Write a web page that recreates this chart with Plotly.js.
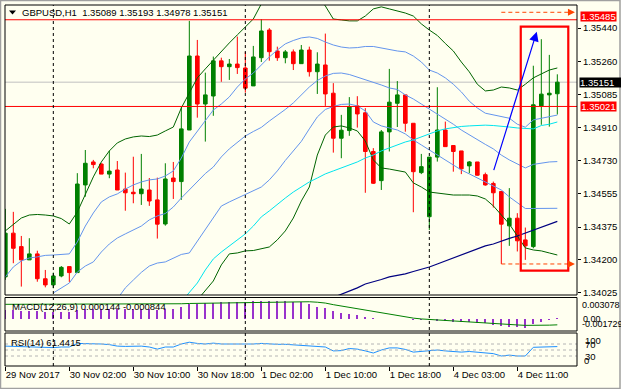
<!DOCTYPE html>
<html><head><meta charset="utf-8">
<script src="https://cdn.plot.ly/plotly-3.0.1.min.js"></script>
<style>html,body{margin:0;padding:0;background:#fffff0;}#chart{width:621px;height:389px;}</style>
</head><body><div id="chart"></div>
<script>
// ---------------- DATA ----------------
const symbolTitle = 'GBPUSD,H1\u00a0\u00a01.35089 1.35193 1.34978 1.35151';
const macdTitle = 'MACD(12,26,9) 0.000144 -0.000844';
const rsiTitle = 'RSI(14) 61.4415';

const open = [1.34109,1.34343,1.34271,1.34200,1.34232,1.34099,1.34066,1.34114,1.34164,1.34132,
1.34601,1.34724,1.34713,1.34659,1.34681,1.34579,1.34562,1.34554,1.34574,1.34521,
1.34392,1.34638,1.34619,1.34895,1.35291,1.35034,1.35077,1.35265,1.35234,1.35248,
1.35227,1.35131,1.35282,1.35430,1.35318,1.35282,1.35313,1.35250,1.35323,1.35207,
1.35243,1.35092,1.34851,1.34892,1.35024,1.34987,1.34780,1.34624,1.34885,1.35038,
1.35083,1.34931,1.34667,1.34431,1.34750,1.34895,1.34812,1.34783,1.34703,1.34724,
1.34656,1.34609,1.34566,1.34382,1.34423,1.34307,1.34271,1.35024,1.35083,1.35089];
const high = [1.34473,1.34457,1.34328,1.34316,1.34249,1.34146,1.34132,1.34167,1.34164,1.34664,
1.34788,1.34735,1.34717,1.34784,1.34729,1.34667,1.34752,1.34767,1.34638,1.34640,
1.34717,1.34724,1.35020,1.35479,1.35377,1.35202,1.35288,1.35282,1.35275,1.35395,
1.35313,1.35345,1.35488,1.35440,1.35341,1.35323,1.35326,1.35350,1.35341,1.35311,
1.35411,1.35146,1.34976,1.35071,1.35076,1.35012,1.34798,1.34895,1.35222,1.35157,
1.35083,1.34931,1.34767,1.34750,1.35124,1.34940,1.34812,1.34783,1.34729,1.34724,
1.34667,1.34619,1.34566,1.34584,1.34450,1.34373,1.35239,1.35381,1.35297,1.35193];
const low = [1.34093,1.34182,1.34057,1.34200,1.34083,1.34053,1.34048,1.34107,1.34082,1.34132,
1.34538,1.34690,1.34659,1.34637,1.34574,1.34463,1.34503,1.34494,1.34489,1.34314,
1.34383,1.34526,1.34521,1.34895,1.34961,1.34833,1.34971,1.35153,1.35163,1.35195,
1.35095,1.35131,1.35259,1.35266,1.35265,1.35252,1.35216,1.35250,1.35181,1.35088,
1.35024,1.34774,1.34744,1.34864,1.34908,1.34559,1.34606,1.34574,1.34780,1.34911,
1.34886,1.34455,1.34659,1.34360,1.34726,1.34806,1.34672,1.34659,1.34664,1.34651,
1.34597,1.34480,1.34178,1.34275,1.34245,1.34200,1.34262,1.34923,1.34913,1.34978];
const close = [1.34343,1.34262,1.34200,1.34232,1.34099,1.34066,1.34114,1.34160,1.34132,1.34606,
1.34717,1.34710,1.34659,1.34675,1.34574,1.34559,1.34554,1.34579,1.34515,1.34391,
1.34633,1.34619,1.34901,1.35291,1.35034,1.35083,1.35265,1.35234,1.35248,1.35229,
1.35119,1.35286,1.35425,1.35314,1.35282,1.35313,1.35250,1.35323,1.35207,1.35248,
1.35088,1.34851,1.34894,1.35020,1.34981,1.34780,1.34610,1.34885,1.35044,1.35083,
1.34931,1.34672,1.34699,1.34750,1.34895,1.34806,1.34780,1.34687,1.34724,1.34653,
1.34601,1.34559,1.34391,1.34423,1.34302,1.34275,1.35030,1.35087,1.35092,1.35151];

// Bollinger 20/2 (green)
const bbUpper2 = [1.34355,1.34392,1.34424,1.34440,1.34443,1.34440,1.34435,1.34421,1.34392,1.34456,
1.34547,1.34644,1.34724,1.34783,1.34826,1.34847,1.34858,1.34863,1.34860,1.34868,
1.34890,1.34911,1.35013,1.35093,1.35174,1.35222,1.35270,1.35313,1.35361,1.35404,
1.35447,1.35489,1.35570,1.35618,1.35645,1.35661,1.35666,1.35661,1.35645,1.35612,
1.35559,1.35489,1.35484,1.35479,1.35479,1.35505,1.35543,1.35554,1.35543,1.35532,
1.35521,1.35505,1.35463,1.35430,1.35401,1.35358,1.35318,1.35259,1.35206,1.35140,
1.35104,1.35109,1.35125,1.35120,1.35109,1.35140,1.35174,1.35195,1.35216,1.35227];
const bbLower2 = [null,null,null,null,null,null,null,null,null,null,null,null,
null,null,null,null,null,null,null,null,null,null,null,null,
1.33985,1.34034,1.34087,1.34173,1.34232,1.34237,1.34248,1.34250,1.34258,1.34269,
1.34307,1.34355,1.34424,1.34515,1.34590,1.34761,1.34868,1.34911,1.34917,1.34906,
1.34890,1.34836,1.34735,1.34692,1.34686,1.34678,1.34670,1.34612,1.34590,1.34563,
1.34558,1.34553,1.34547,1.34547,1.34547,1.34542,1.34526,1.34489,1.34440,1.34392,
1.34328,1.34264,1.34253,1.34248,1.34237,1.34226];
// Bollinger 20/1 (blue)
const bbUpper1 = [1.34109,1.34162,1.34194,1.34210,1.34216,1.34224,1.34226,1.34229,1.34232,1.34296,
1.34381,1.34451,1.34510,1.34537,1.34553,1.34579,1.34601,1.34617,1.34628,1.34633,
1.34649,1.34676,1.34745,1.34831,1.34890,1.34949,1.35002,1.35034,1.35072,1.35125,
1.35168,1.35200,1.35243,1.35286,1.35323,1.35356,1.35374,1.35388,1.35393,1.35385,
1.35366,1.35350,1.35339,1.35334,1.35336,1.35342,1.35342,1.35334,1.35323,1.35318,
1.35313,1.35291,1.35259,1.35216,1.35200,1.35174,1.35140,1.35099,1.35049,1.35013,
1.34985,1.34975,1.34969,1.34958,1.34926,1.34910,1.34949,1.34958,1.34969,1.34975];
const bbMiddle = [null,null,null,null,null,null,
1.34023,1.34050,1.34076,1.34135,1.34167,1.34189,1.34242,1.34285,1.34317,1.34339,
1.34360,1.34381,1.34414,1.34435,1.34448,1.34483,1.34531,1.34574,1.34622,1.34662,
1.34697,1.34751,1.34794,1.34826,1.34863,1.34887,1.34909,1.34943,1.34973,1.35005,
1.35040,1.35083,1.35125,1.35160,1.35184,1.35198,1.35200,1.35192,1.35179,1.35166,
1.35149,1.35136,1.35120,1.35112,1.35083,1.35061,1.35034,1.35008,1.34981,1.34954,
1.34926,1.34895,1.34868,1.34842,1.34818,1.34794,1.34761,1.34735,1.34713,1.34692,
1.34711,1.34719,1.34724,1.34726];
const bbLower1 = [null,null,null,null,null,null,null,null,null,null,null,null,null,null,
1.33991,1.34050,1.34092,1.34133,1.34167,1.34183,1.34189,1.34210,1.34229,1.34237,
1.34301,1.34365,1.34430,1.34488,1.34510,1.34531,1.34550,1.34571,1.34590,1.34628,
1.34676,1.34732,1.34780,1.34834,1.34901,1.34965,1.35005,1.35021,1.35032,1.35034,
1.35024,1.34997,1.34938,1.34917,1.34906,1.34895,1.34874,1.34842,1.34815,1.34788,
1.34761,1.34735,1.34708,1.34681,1.34660,1.34638,1.34617,1.34596,1.34574,1.34537,
1.34505,1.34475,1.34475,1.34475,1.34475,1.34476];
// moving averages
const maCyan = [null,null,null,null,null,null,null,null,null,null,null,
null,null,null,null,null,null,null,null,null,null,null,
1.33975,1.34028,1.34076,1.34146,1.34205,1.34242,1.34275,1.34307,1.34339,1.34381,
1.34430,1.34462,1.34499,1.34531,1.34563,1.34590,1.34617,1.34638,1.34660,1.34676,
1.34692,1.34708,1.34724,1.34745,1.34761,1.34783,1.34799,1.34815,1.34831,1.34842,
1.34858,1.34874,1.34890,1.34901,1.34909,1.34914,1.34917,1.34919,1.34921,1.34919,
1.34917,1.34911,1.34906,1.34903,1.34901,1.34919,1.34926,1.34938];
const maNavy = [null,null,null,null,null,null,null,null,null,null,null,null,null,null,
null,null,null,null,null,null,null,null,null,null,null,null,null,null,
null,null,null,null,null,null,null,null,null,null,null,null,null,
1.33999,1.34015,1.34034,1.34050,1.34071,1.34082,1.34095,1.34109,1.34117,1.34125,
1.34138,1.34149,1.34162,1.34178,1.34194,1.34210,1.34224,1.34242,1.34258,1.34275,
1.34285,1.34301,1.34315,1.34328,1.34344,1.34360,1.34376,1.34389,1.34406];

const macdMain = [0.00128,0.00128,0.00121,0.00121,0.00113,0.00106,0.00106,0.00106,0.00106,0.00128,
0.00142,0.00149,0.00149,0.00149,0.00142,0.00142,0.00142,0.00142,0.00142,0.00135,
0.00142,0.00149,0.00171,0.00214,0.00214,0.00228,0.00235,0.00243,0.00250,0.00250,
0.00250,0.00257,0.00264,0.00264,0.00257,0.00257,0.00250,0.00247,0.00210,0.00175,
0.00152,0.00113,0.00080,0.00070,0.00056,0.00027,0.00013,0.00006,0.00005,0.00003,
0.00000,-0.00009,-0.00016,-0.00020,-0.00030,-0.00035,-0.00040,-0.00045,-0.00050,-0.00055,
-0.00060,-0.00080,-0.00100,-0.00110,-0.00120,-0.00130,-0.00070,-0.00040,-0.00010,0.000144];
const macdSignal = [0.00210,0.00210,0.00210,0.00210,0.00210,0.00210,0.00210,0.00210,0.00210,0.00210,
0.00210,0.00210,0.00210,0.00210,0.00210,0.00210,0.00210,0.00210,0.00210,0.00210,
0.00212,0.00215,0.00218,0.00222,0.00224,0.00226,0.00229,0.00232,0.00235,0.00238,
0.00240,0.00243,0.00245,0.00247,0.00248,0.00248,0.00248,0.00248,0.00247,0.00240,
0.00228,0.00205,0.00185,0.00168,0.00152,0.00133,0.00113,0.00093,0.00066,0.00046,
0.00028,0.00012,0.00000,-0.00008,-0.00016,-0.00024,-0.00032,-0.00040,-0.00046,-0.00052,
-0.00058,-0.00063,-0.00070,-0.00078,-0.00086,-0.00092,-0.00093,-0.00092,-0.00089,-0.000844];
const rsi = [63,62,60,60,58,57,58,60,60,72,
72,71,70,68,63,62,62,63,60,53,
60,60,70,76,72,70,73,70,70,70,
68,70,72,70,69,69,67,67,64,63,
60,47,48,55,53,47,40,50,57,57,
52,43,45,48,50,47,45,43,45,42,
40,38,30,33,30,30,59,60,60,61.4415];

const timeTickBars = [0,8,16,24,32,40,48,56,64];
const timeTickLabels = ['29 Nov 2017','30 Nov 02:00','30 Nov 10:00','30 Nov 18:00','1 Dec 02:00','1 Dec 10:00','1 Dec 18:00','4 Dec 03:00','4 Dec 11:00'];
const daySeparatorBars = [6,30,53];
const priceTicks = [1.35440,1.35260,1.35085,1.34910,1.34730,1.34555,1.34375,1.34200,1.34025];
const priceTickLabels = ['1.35440','1.35260','1.35085','1.34910','1.34730','1.34555','1.34375','1.34200','1.34025'];
const levelHigh = 1.35485, levelPivot = 1.35021, bidPrice = 1.35151;
const dashedTop = 1.35525, dashedLow = 1.34178, dashedFromBar = 62;
const macdMax = 0.003078, macdMin = -0.001729;
const rsiLevels = [70,50,30];

// ---------------- LAYOUT ----------------
const bars = open.map((_, i) => i);
const FONT = 'Liberation Sans, Arial, sans-serif';
const BG = '#fffff0';
const L = 5, R = 44, T = 5, B = 23, PW = 621 - L - R, PH = 389 - T - B;
const px = x => (x - L) / PW;            // pixel -> paper x
const py = y => (389 - B - y) / PH;      // pixel -> paper y
const dMain = [py(295), 1], dMacd = [py(331), py(297.5)], dRsi = [0, py(333)];

const traces = [
  {x: bars, y: bbUpper2, yaxis: 'y', type: 'scatter', mode: 'lines', line: {color: '#006400', width: 1}},
  {x: bars, y: bbLower2, yaxis: 'y', type: 'scatter', mode: 'lines', line: {color: '#006400', width: 1}},
  {x: bars, y: bbUpper1, yaxis: 'y', type: 'scatter', mode: 'lines', line: {color: '#6495ed', width: 1}},
  {x: bars, y: bbMiddle, yaxis: 'y', type: 'scatter', mode: 'lines', line: {color: '#6495ed', width: 1}},
  {x: bars, y: bbLower1, yaxis: 'y', type: 'scatter', mode: 'lines', line: {color: '#6495ed', width: 1}},
  {x: bars, y: maCyan, yaxis: 'y', type: 'scatter', mode: 'lines', line: {color: '#00e5ee', width: 1}},
  {x: bars, y: maNavy, yaxis: 'y', type: 'scatter', mode: 'lines', line: {color: '#000080', width: 1.2}},
  {x: bars, open: open, high: high, low: low, close: close, type: 'candlestick', yaxis: 'y',
   whiskerwidth: 0,
   increasing: {line: {color: '#008000', width: 1}, fillcolor: '#008000'},
   decreasing: {line: {color: '#ff0000', width: 1}, fillcolor: '#ff0000'}},
  {x: bars, y: macdMain, yaxis: 'y2', type: 'bar', width: 0.25, marker: {color: '#9932cc', line: {width: 0}}},
  {x: bars, y: macdSignal, yaxis: 'y2', type: 'scatter', mode: 'lines', line: {color: '#008000', width: 1}},
  {x: bars, y: rsi, yaxis: 'y3', type: 'scatter', mode: 'lines', line: {color: '#1e90ff', width: 1}}
];

const shapes = [];
// gray window border
shapes.push({type: 'rect', xref: 'paper', yref: 'paper', x0: px(0.5), x1: px(620), y0: py(388.5), y1: py(0.5), line: {color: '#a0a0a0', width: 1.5}});
// horizontal lines
shapes.push({type: 'line', xref: 'paper', yref: 'y', x0: 0, x1: 1, y0: bidPrice, y1: bidPrice, line: {color: '#c0c0c0', width: 1}, layer: 'below'});
shapes.push({type: 'line', xref: 'paper', yref: 'y', x0: 0, x1: 1, y0: levelHigh, y1: levelHigh, line: {color: '#ff0000', width: 1}});
shapes.push({type: 'line', xref: 'paper', yref: 'y', x0: 0, x1: 1, y0: levelPivot, y1: levelPivot, line: {color: '#ff0000', width: 1}});
// orange dashed arrows
[dashedTop, dashedLow].forEach(v => shapes.push({type: 'line', xref: 'x', yref: 'y', x0: dashedFromBar, x1: 70.9, y0: v, y1: v, line: {color: '#ff4500', width: 1, dash: '4px,3px'}}));
// red rectangle
shapes.push({type: 'rect', xref: 'x', yref: 'y', x0: 64.43, x1: 70.37, y0: 1.34142, y1: 1.35448, line: {color: '#ff0000', width: 2.2}});
// RSI levels
rsiLevels.forEach(v => shapes.push({type: 'line', xref: 'paper', yref: 'y3', x0: 0, x1: 1, y0: v, y1: v, line: {color: '#b4b4b4', width: 1, dash: '3px,3px'}}));
// day separators
daySeparatorBars.forEach(b => shapes.push({type: 'line', xref: 'x', yref: 'paper', x0: b, x1: b, y0: 0, y1: 1, line: {color: '#000', width: 1, dash: '3px,3px'}}));
// panel frames
[dMain, dMacd, dRsi].forEach(d => shapes.push({type: 'rect', xref: 'paper', yref: 'paper', x0: 0, x1: 1, y0: d[0], y1: d[1], line: {color: '#000', width: 1}}));
// title triangle
shapes.push({type: 'path', xref: 'paper', yref: 'paper', path: `M ${px(9)} ${py(10.5)} L ${px(16)} ${py(10.5)} L ${px(12.5)} ${py(14.5)} Z`, fillcolor: '#000', line: {width: 0}});

const txt = (c, s) => ({family: FONT, size: s || 9.5, color: c || '#000'});
const annotations = [
  {xref: 'paper', yref: 'paper', x: px(20), y: py(12.5), xanchor: 'left', yanchor: 'middle', text: symbolTitle, showarrow: false, font: txt()},
  {xref: 'paper', yref: 'paper', x: px(9.5), y: py(306), xanchor: 'left', yanchor: 'middle', text: macdTitle, showarrow: false, font: txt()},
  {xref: 'paper', yref: 'paper', x: px(9), y: py(342.3), xanchor: 'left', yanchor: 'middle', text: rsiTitle, showarrow: false, font: txt()},
  // price boxes
  {xref: 'paper', yref: 'y', x: 1, y: levelHigh, xshift: 3, yshift: 3, xanchor: 'left', yanchor: 'middle', text: '1.35485', showarrow: false, font: txt('#fff'), bgcolor: '#ff0000', width: 35, height: 9, borderpad: 0},
  {xref: 'paper', yref: 'y', x: 1, y: bidPrice, xshift: 2, xanchor: 'left', yanchor: 'middle', text: '1.35151', showarrow: false, font: txt('#fff'), bgcolor: '#000', width: 42, height: 9, borderpad: 0, align: 'left'},
  {xref: 'paper', yref: 'y', x: 1, y: levelPivot, xshift: 3, xanchor: 'left', yanchor: 'middle', text: '1.35021', showarrow: false, font: txt('#fff'), bgcolor: '#ff0000', width: 35, height: 9, borderpad: 0},
  // MACD scale labels
  {xref: 'paper', yref: 'paper', x: px(580), y: py(304.7), xanchor: 'left', yanchor: 'middle', text: macdMax.toFixed(6), showarrow: false, font: txt('#000', 9)},
  {xref: 'paper', yref: 'paper', x: px(580.5), y: py(318.5), xanchor: 'left', yanchor: 'middle', text: '0.00', showarrow: false, font: txt('#000', 9)},
  {xref: 'paper', yref: 'paper', x: px(579.5), y: py(323.7), xanchor: 'left', yanchor: 'middle', text: macdMin.toFixed(6), showarrow: false, font: txt('#000', 9)},
  // RSI scale labels
  {xref: 'paper', yref: 'paper', x: px(582.5), y: py(340.5), xanchor: 'left', yanchor: 'middle', text: '100', showarrow: false, font: txt()},
  {xref: 'paper', yref: 'paper', x: px(582.5), y: py(344), xanchor: 'left', yanchor: 'middle', text: '70', showarrow: false, font: txt()},
  {xref: 'paper', yref: 'paper', x: px(582.5), y: py(356), xanchor: 'left', yanchor: 'middle', text: '30', showarrow: false, font: txt()},
  {xref: 'paper', yref: 'paper', x: px(581.5), y: py(360), xanchor: 'left', yanchor: 'middle', text: '0', showarrow: false, font: txt()},
  // blue trend arrow
  {xref: 'x', yref: 'y', axref: 'x', ayref: 'y', x: 66.43, y: 1.35421, ax: 61.0, ay: 1.34672, text: '', showarrow: true, arrowhead: 2, arrowsize: 1.6, arrowwidth: 1.2, arrowcolor: '#0000ff'},
  // orange arrow tips
  {xref: 'x', yref: 'y', x: 71.2, y: dashedTop, ax: -6, ay: 0, text: '', showarrow: true, arrowhead: 2, arrowsize: 1.4, arrowwidth: 1, arrowcolor: '#ff4500'},
  {xref: 'x', yref: 'y', x: 71.2, y: dashedLow, ax: -6, ay: 0, text: '', showarrow: true, arrowhead: 2, arrowsize: 1.4, arrowwidth: 1, arrowcolor: '#ff4500'}
];

const layout = {
  width: 621, height: 389,
  margin: {l: L, r: R, t: T, b: B, pad: 0},
  paper_bgcolor: BG, plot_bgcolor: BG,
  showlegend: false, hovermode: false,
  font: {family: FONT, size: 9.5, color: '#000'},
  boxgap: 0.35,
  bargap: 0,
  xaxis: {domain: [0, 1], range: [-0.04, 71.46], anchor: 'y3', rangeslider: {visible: false},
          tickvals: timeTickBars, ticktext: timeTickLabels, tickangle: 0, ticks: 'outside', ticklen: 4, tickcolor: '#000',
          ticklabelposition: 'outside right', tickfont: txt(), showgrid: false, zeroline: false, showline: false, fixedrange: true},
  yaxis: {domain: dMain, range: [1.34012, 1.35564], side: 'right', anchor: 'x', tickvals: priceTicks, ticktext: priceTickLabels,
          ticks: 'outside', ticklen: 3, tickcolor: '#000', tickfont: txt(), showgrid: false, zeroline: false, showline: false},
  yaxis2: {domain: dMacd, range: [macdMin, macdMax], side: 'right', anchor: 'x', showticklabels: false, ticks: '', showgrid: false, zeroline: false, showline: false},
  yaxis3: {domain: dRsi, range: [-3.3, 106.7], side: 'right', anchor: 'x', showticklabels: false, ticks: '', showgrid: false, zeroline: false, showline: false},
  shapes: shapes,
  annotations: annotations
};

Plotly.newPlot('chart', traces, layout, {displayModeBar: false, staticPlot: true});
</script>
</body></html>
